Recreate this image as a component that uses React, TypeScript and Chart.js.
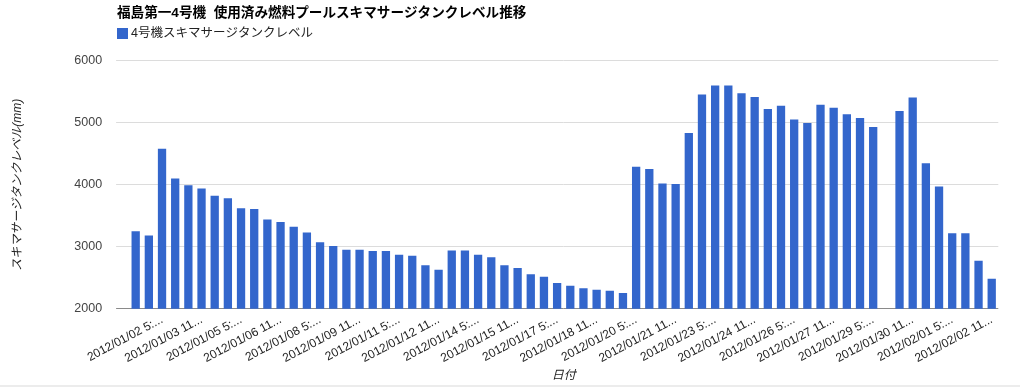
import { useEffect, useRef } from "react";
import { Chart, registerables } from "chart.js";

Chart.register(...registerables);

const chartTitle = "福島第一4号機  使用済み燃料プールスキマサージタンクレベル推移";
const seriesName = "4号機スキマサージタンクレベル";
const yAxisTitle = "スキマサージタンクレベル(mm)";
const xAxisTitle = "日付";

const categories = [
  "2012/01/01 5:00", "2012/01/01 11:00", "2012/01/02 5:00", "2012/01/02 11:00",
  "2012/01/03 5:00", "2012/01/03 11:00", "2012/01/04 5:00", "2012/01/04 11:00",
  "2012/01/05 5:00", "2012/01/05 11:00", "2012/01/06 5:00", "2012/01/06 11:00",
  "2012/01/07 5:00", "2012/01/07 11:00", "2012/01/08 5:00", "2012/01/08 11:00",
  "2012/01/09 5:00", "2012/01/09 11:00", "2012/01/10 5:00", "2012/01/10 11:00",
  "2012/01/11 5:00", "2012/01/11 11:00", "2012/01/12 5:00", "2012/01/12 11:00",
  "2012/01/13 5:00", "2012/01/13 11:00", "2012/01/14 5:00", "2012/01/14 11:00",
  "2012/01/15 5:00", "2012/01/15 11:00", "2012/01/16 5:00", "2012/01/16 11:00",
  "2012/01/17 5:00", "2012/01/17 11:00", "2012/01/18 5:00", "2012/01/18 11:00",
  "2012/01/19 5:00", "2012/01/19 11:00", "2012/01/20 5:00", "2012/01/20 11:00",
  "2012/01/21 5:00", "2012/01/21 11:00", "2012/01/22 5:00", "2012/01/22 11:00",
  "2012/01/23 5:00", "2012/01/23 11:00", "2012/01/24 5:00", "2012/01/24 11:00",
  "2012/01/25 5:00", "2012/01/25 11:00", "2012/01/26 5:00", "2012/01/26 11:00",
  "2012/01/27 5:00", "2012/01/27 11:00", "2012/01/28 5:00", "2012/01/28 11:00",
  "2012/01/29 5:00", "2012/01/29 11:00", "2012/01/30 5:00", "2012/01/30 11:00",
  "2012/01/31 5:00", "2012/01/31 11:00", "2012/02/01 5:00", "2012/02/01 11:00",
  "2012/02/02 5:00", "2012/02/02 11:00",
];

const tankLevel: (number | null)[] = [
  3250, 3180, 4580, 4100, 3990, 3940, 3820, 3780, 3620, 3610, 3440,
  3400, 3320, 3230, 3070, 3010, 2950, 2950, 2930, 2930, 2870,
  2855, 2700, 2630, 2940, 2940, 2870, 2830, 2700, 2655, 2555,
  2515, 2415, 2370, 2330, 2305, 2290, 2255, 4290, 4255, 4020, 4010,
  4835, 5455, 5600, 5600, 5475, 5415, 5220, 5275, 5050, 4995,
  5290, 5240, 5135, 5075, 4930, null, 5190, 5405, 4345, 3970,
  3215, 3215, 2775, 2485,
];

const yTickValues = [2000, 3000, 4000, 5000, 6000];

const FONT = "'Liberation Sans', 'Noto Sans CJK JP', Arial, sans-serif";
const BAR_COLOR = "#3366cc";

const headerPlugin = {
  id: "header",
  afterDraw(chart: any) {
    const ctx = chart.ctx as CanvasRenderingContext2D;
    ctx.save();
    ctx.textBaseline = "middle";
    ctx.textAlign = "left";
    ctx.fillStyle = "#000";
    ctx.font = `bold 13.6px ${FONT}`;
    ctx.fillText(chartTitle, 117, 13);
    ctx.fillStyle = BAR_COLOR;
    ctx.fillRect(117, 28, 11, 11);
    ctx.fillStyle = "#222";
    ctx.font = `12.5px ${FONT}`;
    ctx.fillText(seriesName, 131, 34);
    ctx.fillStyle = "#ececec";
    ctx.fillRect(0, 385, chart.width, 2);
    ctx.restore();
  },
};

export default function App() {
  const canvasRef = useRef<HTMLCanvasElement | null>(null);

  useEffect(() => {
    if (!canvasRef.current) return;
    const chart = new Chart(canvasRef.current, {
      type: "bar",
      data: {
        labels: categories,
        datasets: [
          {
            label: seriesName,
            data: tankLevel,
            backgroundColor: BAR_COLOR,
            borderWidth: 0,
            barPercentage: 0.63,
            categoryPercentage: 1,
          },
        ],
      },
      options: {
        animation: false,
        responsive: false,
        maintainAspectRatio: false,
        layout: { padding: { top: 60.7, right: 21.7, bottom: 0, left: 0 } },
        plugins: {
          legend: { display: false },
          title: { display: false },
          tooltip: { enabled: false },
        },
        scales: {
          x: {
            grid: { display: false, drawTicks: false },
            border: { display: false },
            ticks: {
              autoSkip: false,
              minRotation: 28,
              maxRotation: 28,
              padding: 4,
              color: "#222",
              font: { family: FONT, size: 12 },
              callback: (_v: any, i: number) => {
                if (i % 3 !== 2) return null;
                const s = categories[i];
                return s.length > 13 ? s.slice(0, 13) + "..." : s;
              },
            },
            title: {
              display: true,
              text: xAxisTitle,
              color: "#222",
              font: { family: FONT, size: 12, style: "italic" },
              padding: { top: 4, bottom: 4 },
            },
            afterFit: (scale: any) => {
              scale.height = 78.3;
            },
          },
          y: {
            min: 2000,
            max: 6000,
            grid: {
              drawTicks: true,
              tickLength: 13,
              lineWidth: 1,
              color: (ctx: any) =>
                ctx.tick && ctx.tick.value === 2000 ? "#8a8a8a" : "#dcdcdc",
            },
            border: { display: false },
            afterBuildTicks: (scale: any) => {
              scale.ticks = yTickValues.map((v) => ({ value: v }));
            },
            ticks: {
              padding: 14,
              color: "#444",
              font: { family: FONT, size: 12.5 },
              callback: (v: any) => String(v),
            },
            title: {
              display: true,
              text: yAxisTitle,
              color: "#222",
              font: { family: FONT, size: 12, style: "italic" },
              padding: { top: 10, bottom: 0 },
            },
            afterFit: (scale: any) => {
              scale.width = 129.1;
            },
          },
        },
      },
      plugins: [headerPlugin],
    });
    return () => chart.destroy();
  }, []);

  return (
    <div
      style={{
        position: "absolute",
        left: 0,
        top: 0,
        width: 1020,
        height: 387,
        background: "#fff",
      }}
    >
      <canvas
        ref={canvasRef}
        width={1020}
        height={387}
        style={{ display: "block", width: 1020, height: 387 }}
      />
    </div>
  );
}
